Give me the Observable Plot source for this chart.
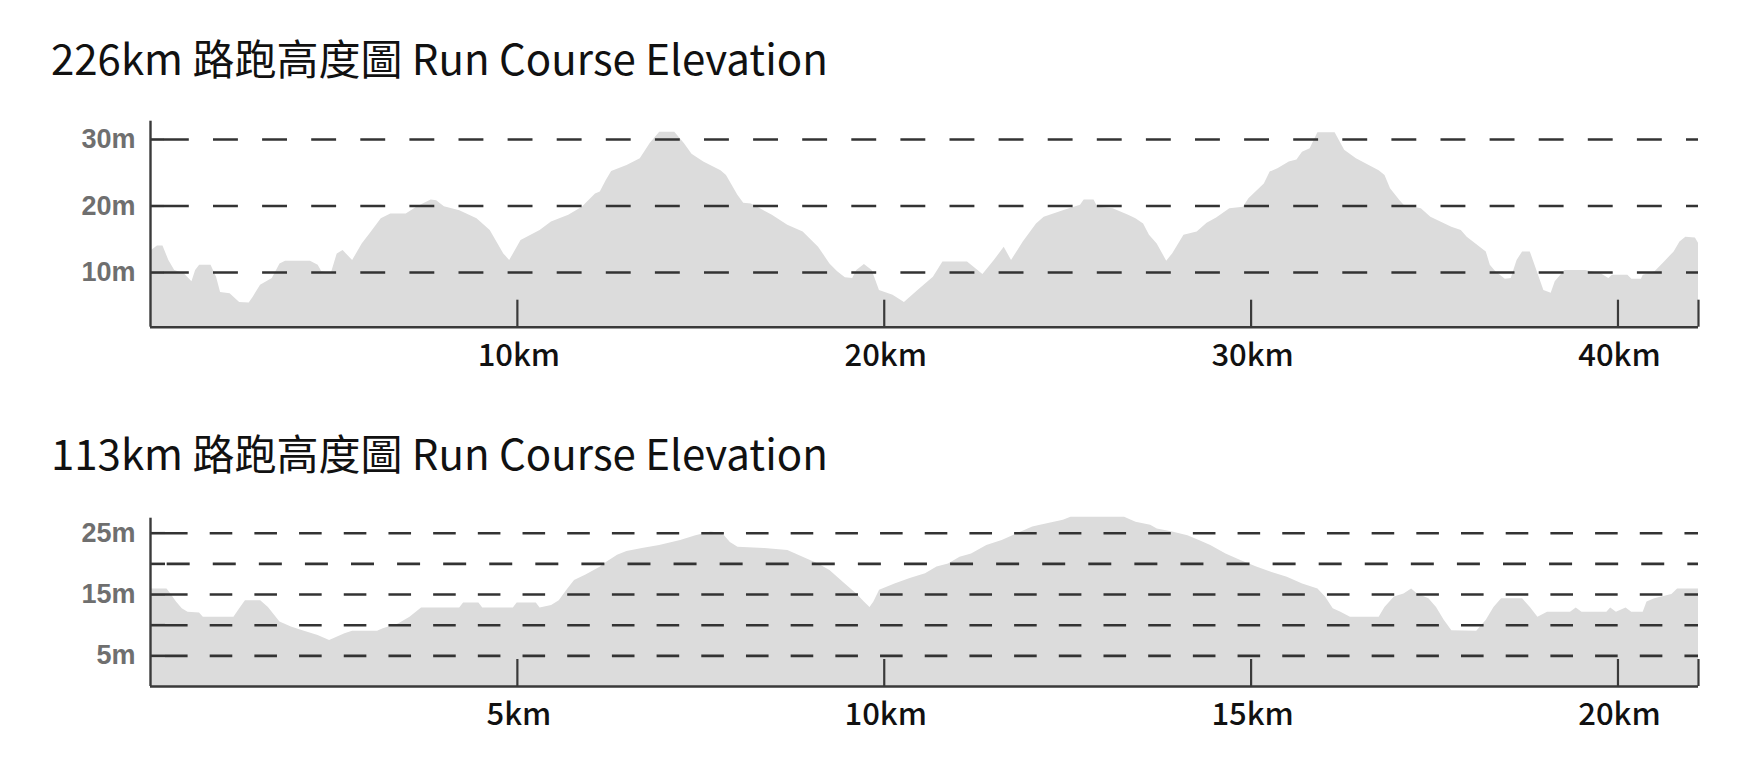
<!DOCTYPE html>
<html>
<head>
<meta charset="utf-8">
<script src="https://cdn.jsdelivr.net/npm/d3@7"></script>
<script src="https://cdn.jsdelivr.net/npm/@observablehq/plot@0.6"></script>
<style>
  html, body { margin: 0; padding: 0; background: #fff; }
  body { width: 1749px; height: 769px; position: relative; overflow: hidden; }
  .title { position: absolute; left: 51px; font-family: "Noto Sans CJK TC", sans-serif; font-size: 42px; line-height: 42px; color: #111; white-space: nowrap; }
  .chart { position: absolute; left: 0; }
</style>
</head>
<body>
<div class="title" id="title1"></div>
<div class="chart" id="chart1" style="top:100px"></div>
<div class="title" id="title2"></div>
<div class="chart" id="chart2" style="top:500px"></div>
<script>
// ---------------- DATA ----------------
const titles = ["226km 路跑高度圖 Run Course Elevation", "113km 路跑高度圖 Run Course Elevation"];

// Full marathon (42.195 km) profile: distance (km) and elevation (m)
const dist226 = [0,0.19,0.34,0.50,0.66,0.92,1.13,1.23,1.34,1.65,1.80,1.91,2.17,2.43,2.69,2.80,3.00,3.32,3.53,3.68,4.36,4.57,4.67,4.93,5.09,5.25,5.51,5.77,5.98,6.29,6.55,6.97,7.28,7.65,7.80,8.01,8.43,8.90,9.26,9.63,9.79,10.10,10.62,10.93,11.40,11.77,12.13,
  12.26,12.42,12.57,12.99,13.35,13.62,13.88,14.29,14.55,14.76,15.08,15.55,15.70,16.01,16.17,16.38,16.95,17.37,17.79,18.21,18.52,18.73,18.94,19.14,19.25,19.46,19.67,19.87,20.24,20.55,20.92,21.34,21.60,22.27,22.69,23.00,23.27,23.47,23.79,24.15,24.36,24.88,25.35,25.45,25.72,25.82,26.24,26.66,26.86,27.07,
  27.23,27.44,27.70,27.86,28.17,28.53,28.80,29.06,29.42,29.79,29.94,30.36,30.52,30.73,31.04,31.25,31.40,31.61,31.82,32.29,32.55,32.87,33.49,33.65,33.80,34.06,34.17,34.64,34.90,35.47,35.73,35.89,36.41,36.52,36.67,36.93,37.09,37.25,37.40,37.61,37.82,37.98,38.18,38.29,38.55,39.12,39.54,39.75,39.85,40.27,40.38,40.64,40.69,41.01,41.27,41.53,41.69,41.85,42.11,42.195];
const elev226 = [13.2,14.0,14.0,11.8,10.3,9.8,8.6,10.3,11.1,11.1,9.3,7.0,6.8,5.5,5.4,6.3,8.1,9.1,11.3,11.7,11.7,11.1,10.1,9.9,12.8,13.3,11.8,14.3,15.8,18.1,18.8,18.8,19.9,20.9,20.8,19.9,19.3,18.1,16.3,12.8,11.8,14.8,16.3,17.6,18.6,19.8,21.8,
  22.1,23.8,25.2,26.1,27.1,29.4,31.1,31.1,29.4,27.8,26.6,25.3,24.6,21.6,20.4,20.3,18.6,17.1,16.1,13.8,11.3,10.1,9.2,9.1,10.3,11.2,10.3,7.3,6.6,5.5,7.3,9.3,11.6,11.6,9.7,11.8,13.8,11.8,14.6,17.3,18.3,19.3,20.1,20.9,20.9,19.8,19.6,18.6,18.1,17.3,
  15.6,14.3,11.7,12.8,15.6,16.1,17.4,18.2,19.6,19.8,21.1,23.3,25.1,25.6,26.6,26.9,28.1,28.6,31.0,31.0,28.4,27.1,25.3,24.6,22.6,20.8,20.1,19.6,18.3,16.8,16.3,15.3,13.1,11.1,10.1,9.0,9.1,11.8,13.1,13.1,9.8,7.3,6.9,8.6,10.3,10.3,9.8,9.1,9.6,9.6,9.0,9.0,9.6,10.1,11.6,13.1,14.6,15.3,15.2,14.4];
const xTicks226 = [10, 20, 30, 40];
const yTicks226 = [10, 20, 30];

// Half marathon (21.0975 km) profile
const dist113 = [0,0.225,0.277,0.354,0.433,0.511,0.668,0.720,1.137,1.216,1.294,1.502,1.607,1.764,1.920,2.076,2.284,2.441,2.650,2.754,3.094,3.172,3.380,3.537,3.694,4.214,4.267,4.476,4.528,4.945,4.997,5.258,5.310,5.467,5.571,5.675,5.779,5.935,6.134,
  6.182,6.365,6.494,6.703,6.938,7.225,7.433,7.642,7.799,7.903,8.007,8.373,8.686,8.894,9.103,9.260,9.468,9.625,9.729,9.806,9.859,9.937,10.146,10.354,10.563,10.719,10.876,11.033,11.190,11.398,11.607,11.867,12.024,12.129,12.441,12.545,13.276,13.432,13.631,
  13.721,13.929,14.138,14.294,14.450,14.658,14.867,15.076,15.285,15.493,15.702,15.911,16.014,16.119,16.224,16.354,16.745,16.824,16.953,17.084,17.188,17.267,17.423,17.527,17.632,17.736,18.075,18.206,18.310,18.414,18.700,18.806,18.909,19.040,19.353,19.431,19.510,19.848,19.901,19.979,20.110,20.188,20.344,20.396,20.501,20.735,20.813,21.0975];
const elev113 = [15.9,15.9,15.1,13.8,12.7,12.1,12.0,11.3,11.3,12.7,14.0,14.0,12.9,10.5,9.7,9.1,8.3,7.5,8.6,9.0,9.0,9.4,10.2,11.3,12.8,12.8,13.6,13.6,12.8,12.8,13.6,13.6,12.8,13.2,14.0,15.7,17.3,18.2,19.5,
  20.0,21.4,22.0,22.5,23.0,23.8,24.6,25.2,24.9,23.5,22.7,22.5,22.2,21.1,20.0,18.9,16.7,15.1,13.8,12.9,13.8,15.7,16.7,17.6,18.4,19.5,20.0,21.1,21.6,23.0,23.8,25.2,26.0,26.3,27.1,27.6,27.6,26.8,26.3,
  25.7,25.2,24.6,23.8,23.0,21.6,20.5,19.5,18.6,17.8,16.7,15.9,14.6,12.7,12.1,11.3,11.3,12.9,14.6,15.1,15.9,15.1,14.3,12.9,10.8,9.1,9.0,10.8,12.9,14.3,14.3,12.9,11.3,12.1,12.1,12.8,12.1,12.1,12.8,12.1,12.8,12.1,12.1,13.8,14.3,15.0,15.9,15.9];
const xTicks113 = [5, 10, 15, 20];
const yGrid113 = [5, 10, 15, 25];
const yGridAlt113 = [20];
const yLabels113 = [5, 15, 25];

// ---------------- DRAW ----------------
const W = 1749, ML = 150, MR = 51;
const AXIS = "#3a3a3a", GRID = "#333", FILL = "#dcdcdc";

function chart(o) {
  const data = o.dist.map((d, i) => ({d, e: o.elev[i]}));
  const xmax = o.dist[o.dist.length - 1];
  const [ymin, ymax] = o.yDomain;
  const pxPerKm = (W - ML - MR) / xmax;
  const pxPerM = (o.height - o.mt - o.mb) / (ymax - ymin);
  const tickTop = ymin + 27 / pxPerM;
  const stub = o.stub / pxPerKm;
  const marks = [
    Plot.areaY(data, {x: "d", y1: ymin, y2: "e", fill: FILL}),
    Plot.ruleY(o.grid, {x1: 0, x2: stub, stroke: GRID, strokeWidth: 2.6}),
    Plot.ruleY(o.grid, {x1: 0, x2: xmax, stroke: GRID, strokeWidth: 2.6, strokeDasharray: o.dash, strokeDashoffset: o.dashOffset})
  ];
  if (o.gridAlt) {
    marks.push(Plot.ruleY(o.gridAlt, {x1: 0, x2: stub, stroke: GRID, strokeWidth: 2.6}));
    marks.push(Plot.ruleY(o.gridAlt, {x1: 0, x2: xmax, stroke: GRID, strokeWidth: 2.6, strokeDasharray: o.dashAlt, strokeDashoffset: o.dashAltOffset}));
  }
  marks.push(
    Plot.ruleX([...o.xTicks, xmax], {y1: ymin, y2: tickTop, stroke: AXIS, strokeWidth: 2.2}),
    Plot.ruleX([0], {y1: ymin, y2: ymax, stroke: AXIS, strokeWidth: 2.4}),
    Plot.ruleY([ymin], {x1: 0, x2: xmax, stroke: AXIS, strokeWidth: 2.4}),
    Plot.text(o.xTicks, {x: d => d, y: ymin, text: d => d + "km", dy: 29, dx: 1.5, lineAnchor: "middle",
      fill: "#111", fontSize: 31, fontWeight: 500, fontFamily: "Noto Sans CJK TC"}),
    Plot.text(o.yLabels, {x: 0, y: d => d, text: d => d + "m", dx: -15, textAnchor: "end", lineAnchor: "middle",
      fill: "#6f6f6f", fontSize: 27, fontWeight: "bold", fontFamily: "Liberation Sans"})
  );
  return Plot.plot({
    width: W, height: o.height,
    marginLeft: ML, marginRight: MR, marginTop: o.mt, marginBottom: o.mb,
    x: {domain: [0, xmax], axis: null},
    y: {domain: [ymin, ymax], axis: null},
    style: {background: "transparent", overflow: "visible"},
    marks
  });
}

document.getElementById("title1").textContent = titles[0];
document.getElementById("title1").style.top = "36px";
document.getElementById("title2").textContent = titles[1];
document.getElementById("title2").style.top = "431px";

document.getElementById("chart1").append(chart({
  dist: dist226, elev: elev226, yDomain: [1.78, 32.75],
  height: 290, mt: 20.7, mb: 63.3,
  grid: yTicks226, yLabels: yTicks226, xTicks: xTicks226,
  stub: 14, dash: "24.9 24.2", dashOffset: 35.2
}));

document.getElementById("chart2").append(chart({
  dist: dist113, elev: elev113, yDomain: [0, 27.45],
  height: 240, mt: 17.7, mb: 54,
  grid: yGrid113, gridAlt: yGridAlt113, yLabels: yLabels113, xTicks: xTicks113,
  stub: 15, dash: "22.6 22.09", dashOffset: 29.69,
  dashAlt: "23 23.08", dashAltOffset: 29.4
}));
</script>
</body>
</html>
